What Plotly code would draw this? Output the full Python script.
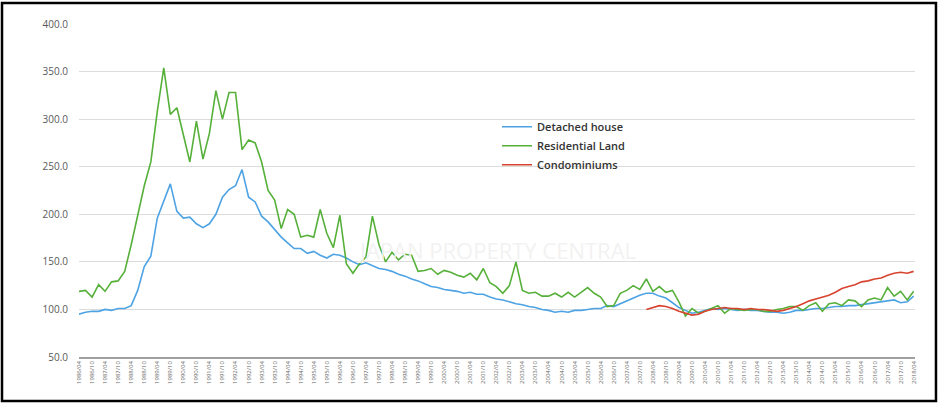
import pandas as pd
import plotly.graph_objects as go

# quarterly index, 1986/04 .. 2018/04
quarters = pd.date_range("1986-04-01", periods=129, freq="3MS")

detached_house = [
    95, 97, 98, 98, 100, 99, 101, 101, 104, 120,
    145, 156, 196, 215, 232, 203, 196, 197, 190, 186,
    190, 200, 218, 226, 230, 247, 218, 213, 198, 192,
    184, 176, 170, 164, 164, 159, 161, 157, 154, 158,
    157, 154, 150, 147, 149, 146, 143, 142, 140, 137,
    135, 132, 130, 127, 124, 123, 121, 120, 119, 117,
    118, 116, 116, 113, 111, 110, 108, 106, 105, 103,
    102, 100, 99, 97, 98, 97, 99, 99, 100, 101,
    101, 104, 103, 106, 109, 112, 115, 117, 117, 114,
    112, 107, 102, 99, 96, 97, 99, 101, 100, 101,
    100, 99, 100, 99, 99, 98, 97, 97, 96, 97,
    99, 99, 100, 101, 101, 102, 103, 103, 104, 104,
    105, 106, 107, 108, 109, 110, 107, 108, 114,
]

residential_land = [
    119, 120, 113, 126, 119, 129, 130, 140, 168, 200,
    230, 255, 308, 354, 305, 312, 282, 255, 298, 258,
    285, 330, 300, 328, 328, 268, 278, 275, 255, 225,
    215, 185, 205, 200, 176, 178, 176, 205, 180, 165,
    199, 148, 138, 148, 155, 198, 168, 150, 160, 152,
    158, 157, 140, 141, 143, 137, 141, 139, 136, 134,
    138, 131, 143, 128, 124, 117, 125, 150, 120, 117,
    118, 114, 114, 117, 113, 118, 113, 118, 123, 117,
    113, 103, 104, 117, 120, 125, 121, 132, 119, 124,
    118, 120, 108, 93, 101, 96, 98, 101, 104, 96,
    101, 100, 99, 100, 100, 98, 98, 100, 101, 103,
    103, 99, 104, 107, 98, 106, 107, 104, 110, 109,
    103, 110, 112, 110, 123, 114, 119, 110, 119,
]

# condominium index starts 2008/01
condominiums = [
    100, 102, 104, 103, 101, 98, 96, 94, 95, 98,
    100, 101, 102, 101, 101, 100, 101, 100, 100, 99,
    98, 99, 101, 103, 106, 109, 111, 113, 115, 118,
    122, 124, 126, 129, 130, 132, 133, 136, 138, 139,
    138, 140,
]

series = [
    ("Detached house", quarters, detached_house, "#4da3e4"),
    ("Residential Land", quarters, residential_land, "#56b03a"),
    ("Condominiums", quarters[-len(condominiums):], condominiums, "#d8432f"),
]

fig = go.Figure()
for name, x, y, color in series:
    fig.add_trace(go.Scatter(x=x, y=y, mode="lines", name=name,
                             line={"color": color, "width": 1.6}))

fig.add_annotation(text="JAPAN PROPERTY CENTRAL", x=0.5, y=0.27, xref="paper", yref="paper",
                   showarrow=False, font={"size": 22, "color": "#f2f2f2", "family": "Open Sans"})

# frame round the picture
fig.add_shape(type="rect", xref="paper", yref="paper", x0=-0.0921, x1=1.0251, y0=-0.132, y1=1.063,
              line={"color": "black", "width": 2.5})

fig.update_layout(
    width=939,
    height=404,
    template="plotly_white",
    paper_bgcolor="white",
    plot_bgcolor="white",
    margin={"l": 79, "r": 24, "t": 24, "b": 47},
    font={"family": "Open Sans", "color": "#555555"},
    showlegend=True,
    legend={
        "x": 0.5, "y": 0.735, "xanchor": "left", "yanchor": "top",
        "bgcolor": "rgba(0,0,0,0)",
        "font": {"size": 11, "color": "#333333", "weight": 600},
        "itemwidth": 30, "tracegroupgap": 0,
    },
    xaxis={
        "type": "date",
        "range": ["1986-04-01", "2018-04-20"],
        "tick0": "1986-04-01",
        "dtick": "M6",
        "tickformat": "%Y/%m",
        "tickangle": -90,
        "tickfont": {"size": 6, "color": "#666666"},
        "showgrid": False,
        "showline": True,
        "linecolor": "#a0a0a0",
        "linewidth": 1.5,
        "zeroline": False,
        "ticks": "",
    },
    yaxis={
        "range": [50, 400],
        "dtick": 50,
        "tickformat": ".1f",
        "tickfont": {"size": 10, "color": "#595959"},
        "gridcolor": "#dcdcdc",
        "gridwidth": 1,
        "zeroline": False,
        "showline": False,
        "ticklabelstandoff": 10,
    },
)

fig.write_html("out.html", config={"displayModeBar": False},
               post_script="document.body.style.margin='0px';")
